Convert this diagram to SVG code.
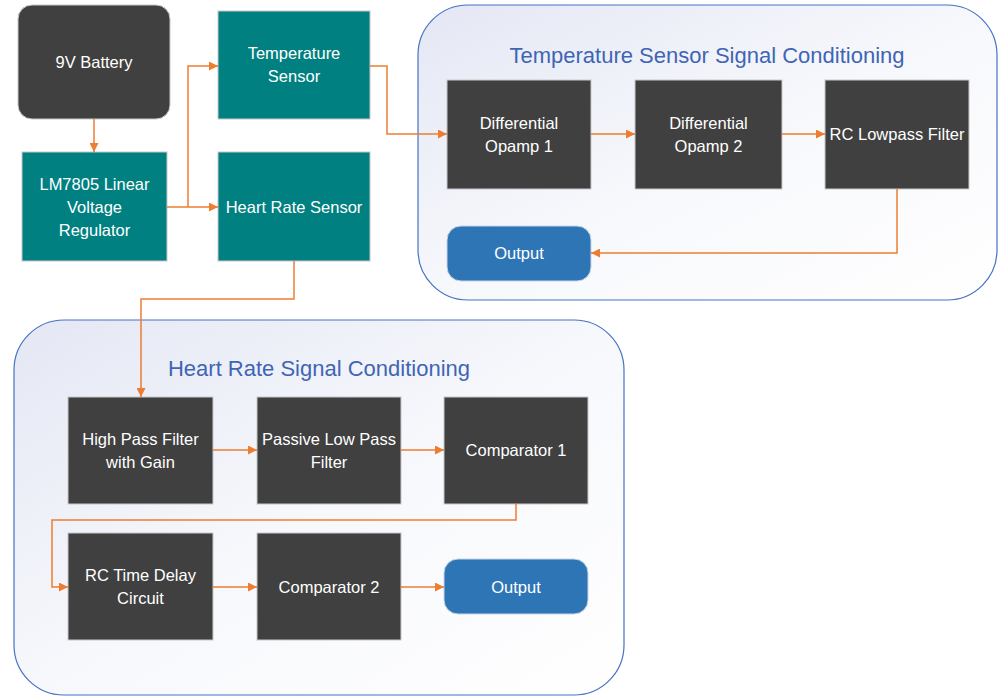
<svg xmlns="http://www.w3.org/2000/svg" width="1006" height="700" viewBox="0 0 1006 700">
<defs>
<linearGradient id="cg" x1="0" y1="0" x2="1" y2="1">
<stop offset="0" stop-color="#E4E7F4"/>
<stop offset="0.5" stop-color="#F7F8FC"/>
<stop offset="1" stop-color="#FFFFFF"/>
</linearGradient>
<marker id="ah" viewBox="0 0 10 10" refX="10" refY="5" markerWidth="9" markerHeight="9" markerUnits="userSpaceOnUse" orient="auto">
<path d="M0,0 L10,5 L0,10 Z" fill="#ED7D31"/>
</marker>
<style>
.cont{fill:url(#cg);stroke:#4472C4;stroke-width:1.2}
.dark{fill:#404040;stroke:#C8C8C8;stroke-width:1}
.teal{fill:#008080;stroke:#C8C8C8;stroke-width:1}
.blue{fill:#2E75B6;stroke:#C8D4E8;stroke-width:1}
.t{font-family:"Liberation Sans",Arial,sans-serif;font-size:16.5px;fill:#FFFFFF;text-anchor:middle;dominant-baseline:central}
.title{font-family:"Liberation Sans",Arial,sans-serif;font-size:22px;fill:#3F65B5;text-anchor:middle;dominant-baseline:central}
.c{fill:none;stroke:#ED7D31;stroke-width:1.5;marker-end:url(#ah)}
.cn{fill:none;stroke:#ED7D31;stroke-width:1.5}
</style>
</defs>
<rect width="1006" height="700" fill="#FFFFFF"/>
<g id="tempContainer">
<rect class="cont" x="418" y="5" width="579" height="295" rx="50"/>
<text class="title" x="707" y="55">Temperature Sensor Signal Conditioning</text>
</g>
<g id="hrContainer">
<rect class="cont" x="14" y="320" width="610" height="375" rx="50"/>
<text class="title" x="319" y="368">Heart Rate Signal Conditioning</text>
</g>
<g id="battery">
<rect class="dark" x="18" y="5" width="152" height="114" rx="14"/>
<text class="t" x="94" y="62">9V Battery</text>
</g>
<g id="regulator">
<rect class="teal" x="22" y="152" width="145" height="109"/>
<text class="t" x="94.5" y="184">LM7805 Linear</text>
<text class="t" x="94.5" y="207">Voltage</text>
<text class="t" x="94.5" y="230">Regulator</text>
</g>
<g id="tempSensor">
<rect class="teal" x="218" y="11" width="152" height="108"/>
<text class="t" x="294" y="53">Temperature</text>
<text class="t" x="294" y="76">Sensor</text>
</g>
<g id="hrSensor">
<rect class="teal" x="218" y="152" width="152" height="109"/>
<text class="t" x="294" y="207">Heart Rate Sensor</text>
</g>
<g id="diff1">
<rect class="dark" x="447" y="80" width="144" height="109"/>
<text class="t" x="519" y="123">Differential</text>
<text class="t" x="519" y="146">Opamp 1</text>
</g>
<g id="diff2">
<rect class="dark" x="635" y="80" width="147" height="109"/>
<text class="t" x="708.5" y="123">Differential</text>
<text class="t" x="708.5" y="146">Opamp 2</text>
</g>
<g id="rcLowpass">
<rect class="dark" x="825" y="80" width="144" height="109"/>
<text class="t" x="897" y="134">RC Lowpass Filter</text>
</g>
<g id="tempOutput">
<rect class="blue" x="447" y="226" width="144" height="55" rx="14"/>
<text class="t" x="519" y="253">Output</text>
</g>
<g id="highPass">
<rect class="dark" x="68" y="397" width="145" height="107"/>
<text class="t" x="140.5" y="439">High Pass Filter</text>
<text class="t" x="140.5" y="462">with Gain</text>
</g>
<g id="passiveLow">
<rect class="dark" x="257" y="397" width="144" height="107"/>
<text class="t" x="329" y="439">Passive Low Pass</text>
<text class="t" x="329" y="462">Filter</text>
</g>
<g id="comp1">
<rect class="dark" x="444" y="397" width="144" height="107"/>
<text class="t" x="516" y="450">Comparator 1</text>
</g>
<g id="rcDelay">
<rect class="dark" x="68" y="533" width="145" height="107"/>
<text class="t" x="140.5" y="575">RC Time Delay</text>
<text class="t" x="140.5" y="598">Circuit</text>
</g>
<g id="comp2">
<rect class="dark" x="257" y="533" width="144" height="107"/>
<text class="t" x="329" y="587">Comparator 2</text>
</g>
<g id="hrOutput">
<rect class="blue" x="444" y="559" width="144" height="55" rx="14"/>
<text class="t" x="516" y="587">Output</text>
</g>
<g id="connectors">
<path class="c" d="M94,119 V152"/>
<path class="cn" d="M167,207 H188"/>
<path class="c" d="M188,207 V66 H218"/>
<path class="c" d="M188,207 H218"/>
<path class="c" d="M370,66 H387 V134 H447"/>
<path class="c" d="M591,134 H635"/>
<path class="c" d="M782,134 H825"/>
<path class="c" d="M897,189 V253 H591"/>
<path class="c" d="M294,261 V299 H141 V397"/>
<path class="c" d="M213,450 H257"/>
<path class="c" d="M401,450 H444"/>
<path class="c" d="M516,504 V520 H52 V587 H68"/>
<path class="c" d="M213,587 H257"/>
<path class="c" d="M401,587 H444"/>
</g>
</svg>
